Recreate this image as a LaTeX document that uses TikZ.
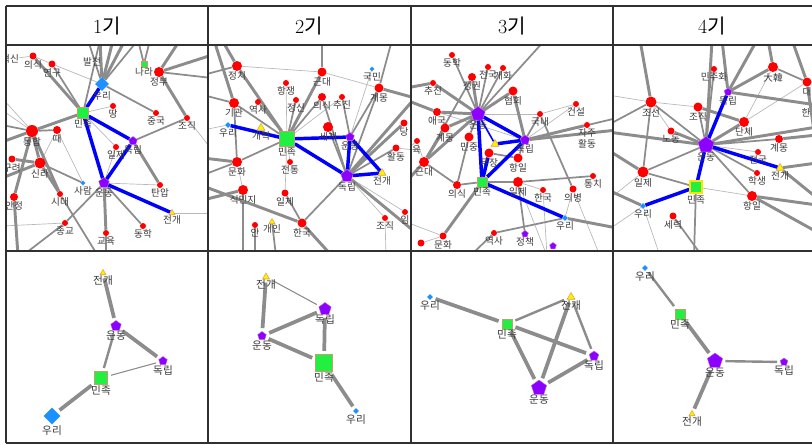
\documentclass[tikz,border=0pt]{standalone}
\usepackage{fontspec}
\newfontfamily\krf{Noto Sans CJK KR}
\usetikzlibrary{shapes.geometric}
\pgfdeclarelayer{bg}
\pgfdeclarelayer{paper}
\pgfsetlayers{paper,bg,main}
\definecolor{vio}{HTML}{8C00FF}
\definecolor{pbd}{HTML}{C060E0}
\definecolor{grn}{HTML}{22F040}
\definecolor{sqb}{HTML}{C0A070}
\definecolor{dbl}{HTML}{1E90FF}
\definecolor{tro}{HTML}{E0A040}
\definecolor{eg}{HTML}{8C8C8C}
\definecolor{egl}{HTML}{B8B8B8}
\definecolor{lbc}{HTML}{3A3A3A}
\definecolor{frm}{HTML}{303030}
\tikzset{
 rd/.style={circle,fill=red,draw=none,inner sep=0pt,minimum size=#1*0.75pt},
 pen/.style={regular polygon,regular polygon sides=5,fill=vio,draw=pbd,line width=0.3pt,inner sep=0pt,minimum size=#1*0.75pt},
 sqr/.style={rectangle,fill=grn,draw=sqb,line width=0.4pt,inner sep=0pt,minimum size=#1*0.75pt},
 dia/.style={diamond,fill=dbl,draw=none,inner sep=0pt,minimum size=#1*0.75pt},
 tri/.style={regular polygon,regular polygon sides=3,fill=yellow,draw=tro,line width=0.4pt,inner sep=0pt,minimum size=#1*0.75pt},
 lb/.style={font=\krf\fontsize{7.2}{8}\selectfont,text=lbc,inner sep=0.3pt},
 lbB/.style={font=\krf\fontsize{8}{9}\selectfont,text=lbc,inner sep=0.3pt},
 every label/.style={lb},
 label distance=0pt,
 hd/.style={font=\fontsize{15}{18}\selectfont,text=black,inner sep=0pt},
 g1/.style={draw=egl,line width=0.5pt},
 g2/.style={draw=eg,line width=1.3pt},
 g3/.style={draw=eg,line width=2.2pt},
 bl/.style={draw=blue,line width=2.6pt},
 blt/.style={draw=blue,line width=1.2pt},
 k1/.style={draw=eg,line width=0.8pt,shorten <=2.5pt,shorten >=2.5pt},
 k2/.style={draw=eg,line width=1.8pt,shorten <=2.5pt,shorten >=2.5pt},
 k3/.style={draw=eg,line width=2.8pt,shorten <=2.5pt,shorten >=2.5pt},
}
\begin{document}
\begin{tikzpicture}[x=0.75pt,y=-0.75pt]
\useasboundingbox (0,0) rectangle (812,444);
\begin{pgfonlayer}{paper}
\fill[white] (0,0) rectangle (812,444);
\end{pgfonlayer}

% ---------- headers ----------
\node[hd] (h1) at (107,26) {1{\krf 기}};
\node[hd] (h2) at (309,26) {2{\krf 기}};
\node[hd] (h3) at (512,26) {3{\krf 기}};
\node[hd] (h4) at (712,26) {4{\krf 기}};

% ---------- panel 1 top ----------
\begin{scope}
\clip (7,46) rectangle (207,250);
\node[dia=14,label=below:우리] (a-uri) at (102,84) {};
\node[sqr=11,label=below:민족] (a-minjok) at (83,113) {};
\node[rd=6,label=below:땅] (a-ttang) at (113,106) {};
\node[pen=9,label=below:독립] (a-dok) at (133,141) {};
\node[pen=11,label=below:운동] (a-undong) at (104,183) {};
\node[tri=7,label=below:전개] (a-jeon) at (172,213) {};
\node[rd=6,label=below:일제] (a-ilje) at (116,147) {};
\node[rd=6,label=below:중국] (a-jungguk) at (156,113) {};
\node[rd=6,label=below:조직] (a-jojik) at (187,118) {};
\node[rd=10,label=below:정부] (a-jeongbu) at (159,72) {};
\node[sqr=6,label=below:나라] (a-nara) at (144,64) {};
\node[rd=7,label=below:연구] (a-yeongu) at (52,64) {};
\node[rd=7,label=below:의식] (a-uisik) at (33,56) {};
\node[lb] (a-sin) at (10,59) {혁신};
\node[lb] (a-baljeon) at (92,62) {발전};
\node[rd=12,label=below:통합] (a-tonghap) at (32,131) {};
\node[rd=8,label=below:때] (a-ttae) at (57,130) {};
\node[rd=11,label=below:신라] (a-silla) at (40,163) {};
\node[rd=7,label=below:구려] (a-guryeo) at (12,159) {};
\node[dia=5,label=below:사람] (a-saram) at (83,183) {};
\node[rd=6,label=below:시대] (a-sidae) at (60,194) {};
\node[rd=6,label=below:탄압] (a-tanap) at (160,185) {};
\node[rd=6,label=below:동학] (a-donghak) at (143,226) {};
\node[rd=6,label=below:종교] (a-jonggyo) at (65,223) {};
\node[rd=6,label=below:교육] (a-gyoyuk) at (106,233) {};
\node[rd=8,label=below:안정] (a-anjeong) at (14,197) {};
\coordinate (aT1) at (88,40); \coordinate (aT2) at (100,40);
\coordinate (aT3) at (113,40); \coordinate (aT4) at (125,40);
\coordinate (aT5) at (138,40); \coordinate (aT6) at (150,40);
\coordinate (aT7) at (180,40); \coordinate (aR1) at (212,55);
\coordinate (aR2) at (212,78); \coordinate (aR3) at (212,150);
\coordinate (aR4) at (212,213); \coordinate (aL1) at (2,98);
\coordinate (aL2) at (2,110); \coordinate (aL3) at (2,125);
\coordinate (aL4) at (2,142); \coordinate (aL5) at (2,178);
\coordinate (aL6) at (2,226); \coordinate (aB1) at (98,256);
\coordinate (aB2) at (18,256); \coordinate (aB3) at (106,256);
\coordinate (aB4) at (22,256);
\begin{pgfonlayer}{bg}
\begin{scope}
\clip (7,46) rectangle (207,250);
\foreach \u/\v in {a-yeongu/a-uri,a-uisik/a-yeongu,a-sin/a-uisik,a-minjok/a-ttang,a-minjok/a-ilje,a-jojik/aR3,a-undong/a-tanap,a-jeon/aR4,a-tonghap/aL1,a-tonghap/aL2,a-ttae/a-saram,a-ttae/a-silla,a-jonggyo/aL6,a-undong/a-ilje}
  \draw[g1] (\u) -- (\v);
\foreach \u/\v in {a-yeongu/a-minjok,a-minjok/aT2,a-uri/aT1,a-uri/aT5,a-uri/a-jungguk,a-nara/aT5,a-nara/aT6,a-jeongbu/aR2,a-dok/a-jojik,a-undong/a-donghak,a-undong/a-jonggyo,a-tonghap/a-ttae,a-tonghap/aL3,a-silla/a-saram,a-sidae/aB1,a-gyoyuk/aB3,a-jonggyo/aB4}
  \draw[g2] (\u) -- (\v);
\foreach \u/\v in {a-uisik/a-minjok,a-tonghap/a-minjok,a-uri/aT2,a-uri/aT3,a-uri/aT4,a-jeongbu/aT7,a-jeongbu/aR1,a-jeongbu/a-jojik,a-dok/a-tanap,a-undong/a-gyoyuk,a-tonghap/a-silla,a-tonghap/aL4,a-tonghap/a-anjeong,a-tonghap/a-sidae,a-silla/a-guryeo,a-silla/a-sidae,a-silla/aL5,a-anjeong/aB2}
  \draw[g3] (\u) -- (\v);
\foreach \u/\v in {a-uri/a-minjok,a-minjok/a-dok,a-minjok/a-undong,a-dok/a-undong,a-undong/a-jeon}
  \draw[bl] (\u) -- (\v);
\end{scope}
\end{pgfonlayer}
\end{scope}

% ---------- panel 2 top ----------
\begin{scope}
\clip (209,46) rectangle (410,250);
\node[sqr=15,label=below:민족] (b-minjok) at (287,139) {};
\node[dia=6,label=below:우리] (b-uri) at (228,125) {};
\node[tri=9,label=below:개혁] (b-gaehyeok) at (261,128) {};
\node[pen=9,label=below:운동] (b-undong) at (350,137) {};
\node[pen=13,label=below:독립] (b-dok) at (347,176) {};
\node[tri=9,label=below:전개] (b-jeon) at (382,173) {};
\node[rd=10,label=below:세계] (b-segye) at (328,127) {};
\node[rd=10,label=below:정치] (b-jeongchi) at (237,66) {};
\node[rd=9,label=below:근대] (b-geundae) at (322,72) {};
\node[dia=5,label=below:국민] (b-gukmin) at (372,69) {};
\node[rd=9,label=below:계몽] (b-gyemong) at (379,88) {};
\node[rd=6,label=below:항쟁] (b-hangjaeng) at (286,83) {};
\node[rd=6,label=below:정신] (b-jeongsin) at (296,100) {};
\node[rd=8,label=below:의식] (b-uisik) at (322,97) {};
\node[rd=6,label=below:추진] (b-chujin) at (342,97) {};
\node[rd=10,label=below:기관] (b-gigwan) at (234,103) {};
\node[rd=6,label=below:역사] (b-yeoksa) at (258,102) {};
\node[rd=10,label=below:문화] (b-munhwa) at (237,162) {};
\node[rd=6,label=below:전통] (b-jeontong) at (290,162) {};
\node[rd=10,label=below:식민지] (b-sikminji) at (243,190) {};
\node[rd=7,label=below:일제] (b-ilje) at (285,193) {};
\node[rd=9,label=below:한국] (b-hanguk) at (302,223) {};
\node[tri=7,label=below:개인] (b-gaein) at (272,222) {};
\node[rd=6,label=below:안] (b-an) at (255,225) {};
\node[rd=6,label=below:조직] (b-jojik) at (385,218) {};
\node[rd=6,label=below:임] (b-im) at (405,212) {};
\node[rd=7,label=below:활동] (b-hwaldong) at (396,148) {};
\node[rd=7,label=below:당] (b-dang) at (404,123) {};
\coordinate (bT1) at (222,40); \coordinate (bT2) at (322,40);
\coordinate (bT3) at (392,40); \coordinate (bT5) at (214,40);
\coordinate (bL1) at (203,75); \coordinate (bL2) at (203,95);
\coordinate (bL3) at (203,158); \coordinate (bL4) at (203,175);
\coordinate (bL5) at (203,200); \coordinate (bL6) at (203,186);
\coordinate (bL7) at (203,130); \coordinate (bR1) at (415,98);
\coordinate (bR2) at (415,232); \coordinate (bR3) at (415,150);
\coordinate (bB1) at (243,256); \coordinate (bB2) at (255,256);
\coordinate (bB3) at (276,256); \coordinate (bB4) at (332,256);
\coordinate (bB5) at (386,256);
\begin{pgfonlayer}{bg}
\begin{scope}
\clip (209,46) rectangle (410,250);
\foreach \u/\v in {b-hangjaeng/b-minjok,b-chujin/b-minjok,b-geundae/b-gyemong,b-gukmin/b-undong,b-dok/b-jojik,b-dok/b-im,b-minjok/b-jeontong,b-minjok/b-ilje,b-munhwa/b-sikminji,b-jojik/bB5,b-uri/bL7,b-hwaldong/bR3,b-jeongchi/b-geundae}
  \draw[g1] (\u) -- (\v);
\foreach \u/\v in {b-gigwan/b-minjok,b-gigwan/b-munhwa,b-yeoksa/b-minjok,b-jeongsin/b-minjok,b-uisik/b-minjok,b-gyemong/b-dok,b-gyemong/bT3,b-undong/b-chujin,b-dok/b-uisik,b-dok/b-hwaldong,b-dok/b-hanguk,b-minjok/b-munhwa,b-munhwa/bL4,b-ilje/b-hanguk,b-segye/b-dok,b-jeongchi/bL1,b-gaein/bB3,b-undong/b-gyemong,b-gigwan/bL2}
  \draw[g2] (\u) -- (\v);
\foreach \u/\v in {b-jeongchi/b-minjok,b-jeongchi/bT1,bT5/b-gigwan,b-geundae/b-minjok,b-geundae/bT2,b-gyemong/bR1,b-dok/bR1,b-dok/b-dang,b-dok/bR2,b-munhwa/bL3,b-sikminji/bL5,b-sikminji/bB1,bL6/b-hanguk,b-an/bB2,b-hanguk/bB4}
  \draw[g3] (\u) -- (\v);
\foreach \u/\v in {b-uri/b-minjok,b-minjok/b-undong,b-minjok/b-dok,b-undong/b-dok,b-undong/b-jeon,b-dok/b-jeon}
  \draw[bl] (\u) -- (\v);
\end{scope}
\end{pgfonlayer}
\end{scope}

% ---------- panel 3 top ----------
\begin{scope}
\clip (412,46) rectangle (612,250);
\node[sqr=10,label=below:민족] (c-minjok) at (482,182) {};
\node[pen=15,label=below:운동] (c-undong) at (478,114) {};
\node[pen=10,label=below:독립] (c-dok) at (525,140) {};
\node[tri=9] (c-jeon) at (495,144) {};
\node[rd=9,label=below:무장] (c-mujang) at (489,153) {};
\node[dia=6,label=below:우리] (c-uri) at (565,218) {};
\node[rd=6,label=below:동학] (c-donghak) at (452,55) {};
\node[rd=6,label=below:전국] (c-jeonguk) at (488,67) {};
\node[rd=6,label=below:개화] (c-gaehwa) at (503,68) {};
\node[rd=6,label=below:추진] (c-chujin) at (433,83) {};
\node[rd=8,label=below:정권] (c-jeonggwon) at (472,77) {};
\node[rd=9,label=below:협회] (c-hyeophoe) at (513,91) {};
\node[rd=6,label=below:건설] (c-geonseol) at (576,104) {};
\node[rd=6,label=below:국내] (c-gungnae) at (540,114) {};
\node[rd=8,label=below:애국] (c-aeguk) at (437,112) {};
\node[rd=9,label=below:계몽] (c-gyemong) at (445,128) {};
\node[rd=9,label=below:민중] (c-minjung) at (469,137) {};
\node[rd=6] (c-jaju) at (587,125) {};
\node[lb,align=center,anchor=north] (c-jajulb) at (587,128) {자주\\활동};
\node[rd=10,label=below:근대] (c-geundae) at (424,162) {};
\node[rd=6] (c-gyoyuk) at (417,141) {};
\node[lb] (c-gyoyuklb) at (412,150) {교육};
\node[rd=8,label=below:의식] (c-uisik) at (457,185) {};
\node[rd=10,label=below:일제] (c-ilje) at (518,182) {};
\node[rd=9,label=below:항일] (c-hangil) at (518,158) {};
\node[rd=6,label=below:한국] (c-hanguk) at (543,190) {};
\node[rd=7,label=below:의병] (c-uibyeong) at (573,189) {};
\node[rd=6,label=below:통치] (c-tongchi) at (593,176) {};
\node[rd=6,label=below:역사] (c-yeoksa) at (494,233) {};
\node[pen=7,label=below:정책] (c-jeongchaek) at (525,234) {};
\node[rd=7,label=below:문화] (c-munhwa) at (443,236) {};
\node[rd=7] (c-x1) at (421,243) {};
\node[pen=7] (c-x2) at (553,246) {};
\coordinate (cT1) at (545,40); \coordinate (cL1) at (406,182);
\coordinate (cL2) at (406,88); \coordinate (cL3) at (406,150);
\coordinate (cL4) at (406,222); \coordinate (cL5) at (406,100);
\coordinate (cR1) at (617,130); \coordinate (cR2) at (617,118);
\coordinate (cR3) at (617,228); \coordinate (cB1) at (470,256);
\coordinate (cB2) at (547,256); \coordinate (cB3) at (600,256);
\begin{pgfonlayer}{bg}
\begin{scope}
\clip (412,46) rectangle (612,250);
\foreach \u/\v in {c-dok/c-geonseol,c-gungnae/c-geonseol,c-ilje/c-hanguk,c-ilje/cB2,c-uri/c-uibyeong,c-uibyeong/cB3,c-munhwa/cL4,c-gyoyuk/c-geundae,c-gyoyuk/cL3,c-aeguk/c-dok,c-hanguk/cB2,c-undong/c-gungnae,c-x1/c-munhwa}
  \draw[g1] (\u) -- (\v);
\foreach \u/\v in {c-undong/c-donghak,c-undong/c-jeonguk,c-undong/c-gaehwa,c-undong/cT1,c-geundae/c-jeonggwon,c-geundae/c-uisik,c-dok/c-gungnae,c-dok/cR2,c-dok/c-hangil,c-minjok/c-uisik,c-minjok/c-ilje,c-ilje/c-tongchi,c-ilje/c-jeongchaek,c-uri/c-yeoksa,c-gungnae/c-uibyeong,c-uisik/c-minjung,c-undong/c-minjung,c-yeoksa/cB1,c-hangil/c-mujang}
  \draw[g2] (\u) -- (\v);
\foreach \u/\v in {c-undong/c-jeonggwon,c-undong/c-hyeophoe,c-undong/c-chujin,c-undong/c-aeguk,c-undong/c-gyemong,c-geundae/c-undong,c-geundae/cL1,c-geundae/c-gyemong,c-chujin/cL2,c-hyeophoe/c-dok,c-dok/c-jaju,c-dok/cR1,c-minjok/c-munhwa,c-uri/cR3,c-aeguk/cL5}
  \draw[g3] (\u) -- (\v);
\draw[blt] (c-undong) -- (c-jeon);
\foreach \u/\v in {c-undong/c-minjok,c-undong/c-dok,c-jeon/c-dok,c-minjok/c-dok,c-minjok/c-mujang,c-minjok/c-uri}
  \draw[bl] (\u) -- (\v);
\end{scope}
\end{pgfonlayer}
\end{scope}

% ---------- panel 4 top ----------
\begin{scope}
\clip (614,46) rectangle (812,250);
\node[pen=17,label=below:운동] (d-undong) at (706,145) {};
\node[pen=8,label=below:독립] (d-dok) at (728,92) {};
\node[sqr=12,draw=yellow!85!orange,line width=1.2pt,label={[yshift=-1pt]below:민족}] (d-minjok) at (696,187) {};
\node[dia=6,label=below:우리] (d-uri) at (643,206) {};
\node[tri=9,label=below:전개] (d-jeon) at (780,168) {};
\node[rd=6,label=below:민주화] (d-minjuhwa) at (714,69) {};
\node[rd=10,label=below:大韓] (d-daehan) at (773,67) {};
\node[rd=9,label=below:대] (d-dae) at (807,82) {};
\node[lb] (d-han) at (806,113) {한};
\node[rd=11,label=below:조선] (d-joseon) at (651,102) {};
\node[rd=9,label=below:조직] (d-jojik) at (698,107) {};
\node[rd=10,label=below:단체] (d-danche) at (744,122) {};
\node[rd=7,label=below:노동] (d-nodong) at (671,131) {};
\node[rd=8,label=below:계몽] (d-gyemong) at (779,139) {};
\node[rd=6,label=below:전국] (d-jeonguk) at (758,152) {};
\node[rd=6,label=below:학생] (d-haksaeng) at (757,173) {};
\node[rd=11,label=below:일제] (d-ilje) at (643,172) {};
\node[rd=10,label=below:항일] (d-hangil) at (752,196) {};
\node[rd=7,label=below:세력] (d-seryeok) at (673,216) {};
\coordinate (dT1) at (640,40); \coordinate (dT2) at (712,40);
\coordinate (dT3) at (722,40); \coordinate (dT4) at (757,40);
\coordinate (dT5) at (792,40); \coordinate (dT6) at (768,40);
\coordinate (dL1) at (608,125); \coordinate (dL2) at (608,150);
\coordinate (dL3) at (608,200); \coordinate (dL4) at (608,190);
\coordinate (dL5) at (608,132); \coordinate (dL6) at (608,230);
\coordinate (dL7) at (608,95); \coordinate (dR1) at (817,105);
\coordinate (dR2) at (817,152); \coordinate (dR3) at (817,135);
\coordinate (dR4) at (817,127); \coordinate (dR5) at (817,205);
\coordinate (dR6) at (817,232); \coordinate (dR7) at (817,163);
\coordinate (dR8) at (817,198); \coordinate (dB1) at (694,256);
\coordinate (dB2) at (702,256); \coordinate (dB3) at (660,256);
\begin{pgfonlayer}{bg}
\begin{scope}
\clip (614,46) rectangle (812,250);
\foreach \u/\v in {d-joseon/d-jojik,d-joseon/d-nodong,d-danche/d-daehan,d-undong/d-jeonguk,d-ilje/dL3,d-minjok/d-hangil,d-uri/dL6,d-uri/dB3,d-dae/d-danche,dL7/d-joseon}
  \draw[g1] (\u) -- (\v);
\foreach \u/\v in {d-joseon/dL1,d-joseon/d-undong,d-jojik/d-undong,d-daehan/d-dae,d-undong/d-gyemong,d-undong/d-haksaeng,d-undong/d-hangil,d-undong/d-ilje,d-ilje/d-minjok,d-minjok/dB1,d-seryeok/dB2,d-joseon/d-ilje,d-minjuhwa/d-undong}
  \draw[g2] (\u) -- (\v);
\foreach \u/\v in {dT1/d-joseon,dT2/d-undong,d-nodong/d-undong,d-jojik/d-danche,d-danche/d-undong,d-dok/d-daehan,d-dok/dR1,d-dok/dT3,d-dok/dT4,d-dae/dT5,d-dae/dR2,d-gyemong/dR3,d-undong/dR4,d-ilje/dL2,d-hangil/dR5,d-hangil/dR6,d-jeon/dR7,d-jeon/dR8,d-uri/dL4,dL5/d-undong,d-daehan/dT6}
  \draw[g3] (\u) -- (\v);
\foreach \u/\v in {d-dok/d-undong,d-undong/d-minjok,d-minjok/d-uri,d-undong/d-jeon}
  \draw[bl] (\u) -- (\v);
\end{scope}
\end{pgfonlayer}
\end{scope}

% ---------- bottom panels ----------
\begin{scope}[every label/.style={lbB}]
\node[tri=7,label=below:전개] (e-jeon) at (103,273) {};
\node[pen=11,label=below:운동] (e-undong) at (116,326) {};
\node[pen=9,label=below:독립] (e-dok) at (163,361) {};
\node[sqr=13,label=below:민족] (e-minjok) at (101,378) {};
\node[dia=17,label=below:우리] (e-uri) at (52,416) {};

\node[tri=8,label=below:전개] (f-jeon) at (266,277) {};
\node[pen=13,label=below:독립] (f-dok) at (325,309) {};
\node[pen=9,label=below:운동] (f-undong) at (262,336) {};
\node[sqr=17,label=below:민족] (f-minjok) at (324,363) {};
\node[dia=6,label=below:우리] (f-uri) at (356,411) {};

\node[dia=6,label=below:우리] (g-uri) at (430,297) {};
\node[sqr=10,label=below:민족] (g-minjok) at (507,324) {};
\node[tri=9,label=below:전개] (g-jeon) at (571,297) {};
\node[pen=10,label=below:독립] (g-dok) at (594,356) {};
\node[pen=16,label=below:운동] (g-undong) at (539,388) {};

\node[dia=6,label=below:우리] (h-uri) at (645,268) {};
\node[sqr=10,label=below:민족] (h-minjok) at (680,314) {};
\node[pen=16,label=below:운동] (h-undong) at (715,361) {};
\node[pen=8,label=below:독립] (h-dok) at (784,362) {};
\node[tri=7,label=below:전개] (h-jeon) at (692,414) {};
\end{scope}
\begin{pgfonlayer}{bg}
\begin{scope}
\foreach \u/\v in {e-minjok/e-dok,f-jeon/f-dok}
  \draw[k1] (\u) -- (\v);
\foreach \u/\v in {e-undong/e-minjok,g-minjok/g-jeon,g-jeon/g-dok,h-uri/h-minjok,h-undong/h-dok}
  \draw[k2] (\u) -- (\v);
\foreach \u/\v in {e-jeon/e-undong,e-undong/e-dok,e-minjok/e-uri,f-jeon/f-undong,f-undong/f-dok,f-undong/f-minjok,f-dok/f-minjok,f-minjok/f-uri,g-uri/g-minjok,g-minjok/g-dok,g-minjok/g-undong,g-undong/g-jeon,g-undong/g-dok,h-minjok/h-undong,h-undong/h-jeon}
  \draw[k3] (\u) -- (\v);
\end{scope}
\end{pgfonlayer}

% ---------- table frame ----------
\foreach \yy in {6,45,251,443}
  \draw[frm,line width=0.9pt] (6,\yy) -- (812,\yy);
\foreach \xx in {6,208,411,613}
  \draw[frm,line width=0.9pt] (\xx,6) -- (\xx,443);
\end{tikzpicture}
\end{document}
